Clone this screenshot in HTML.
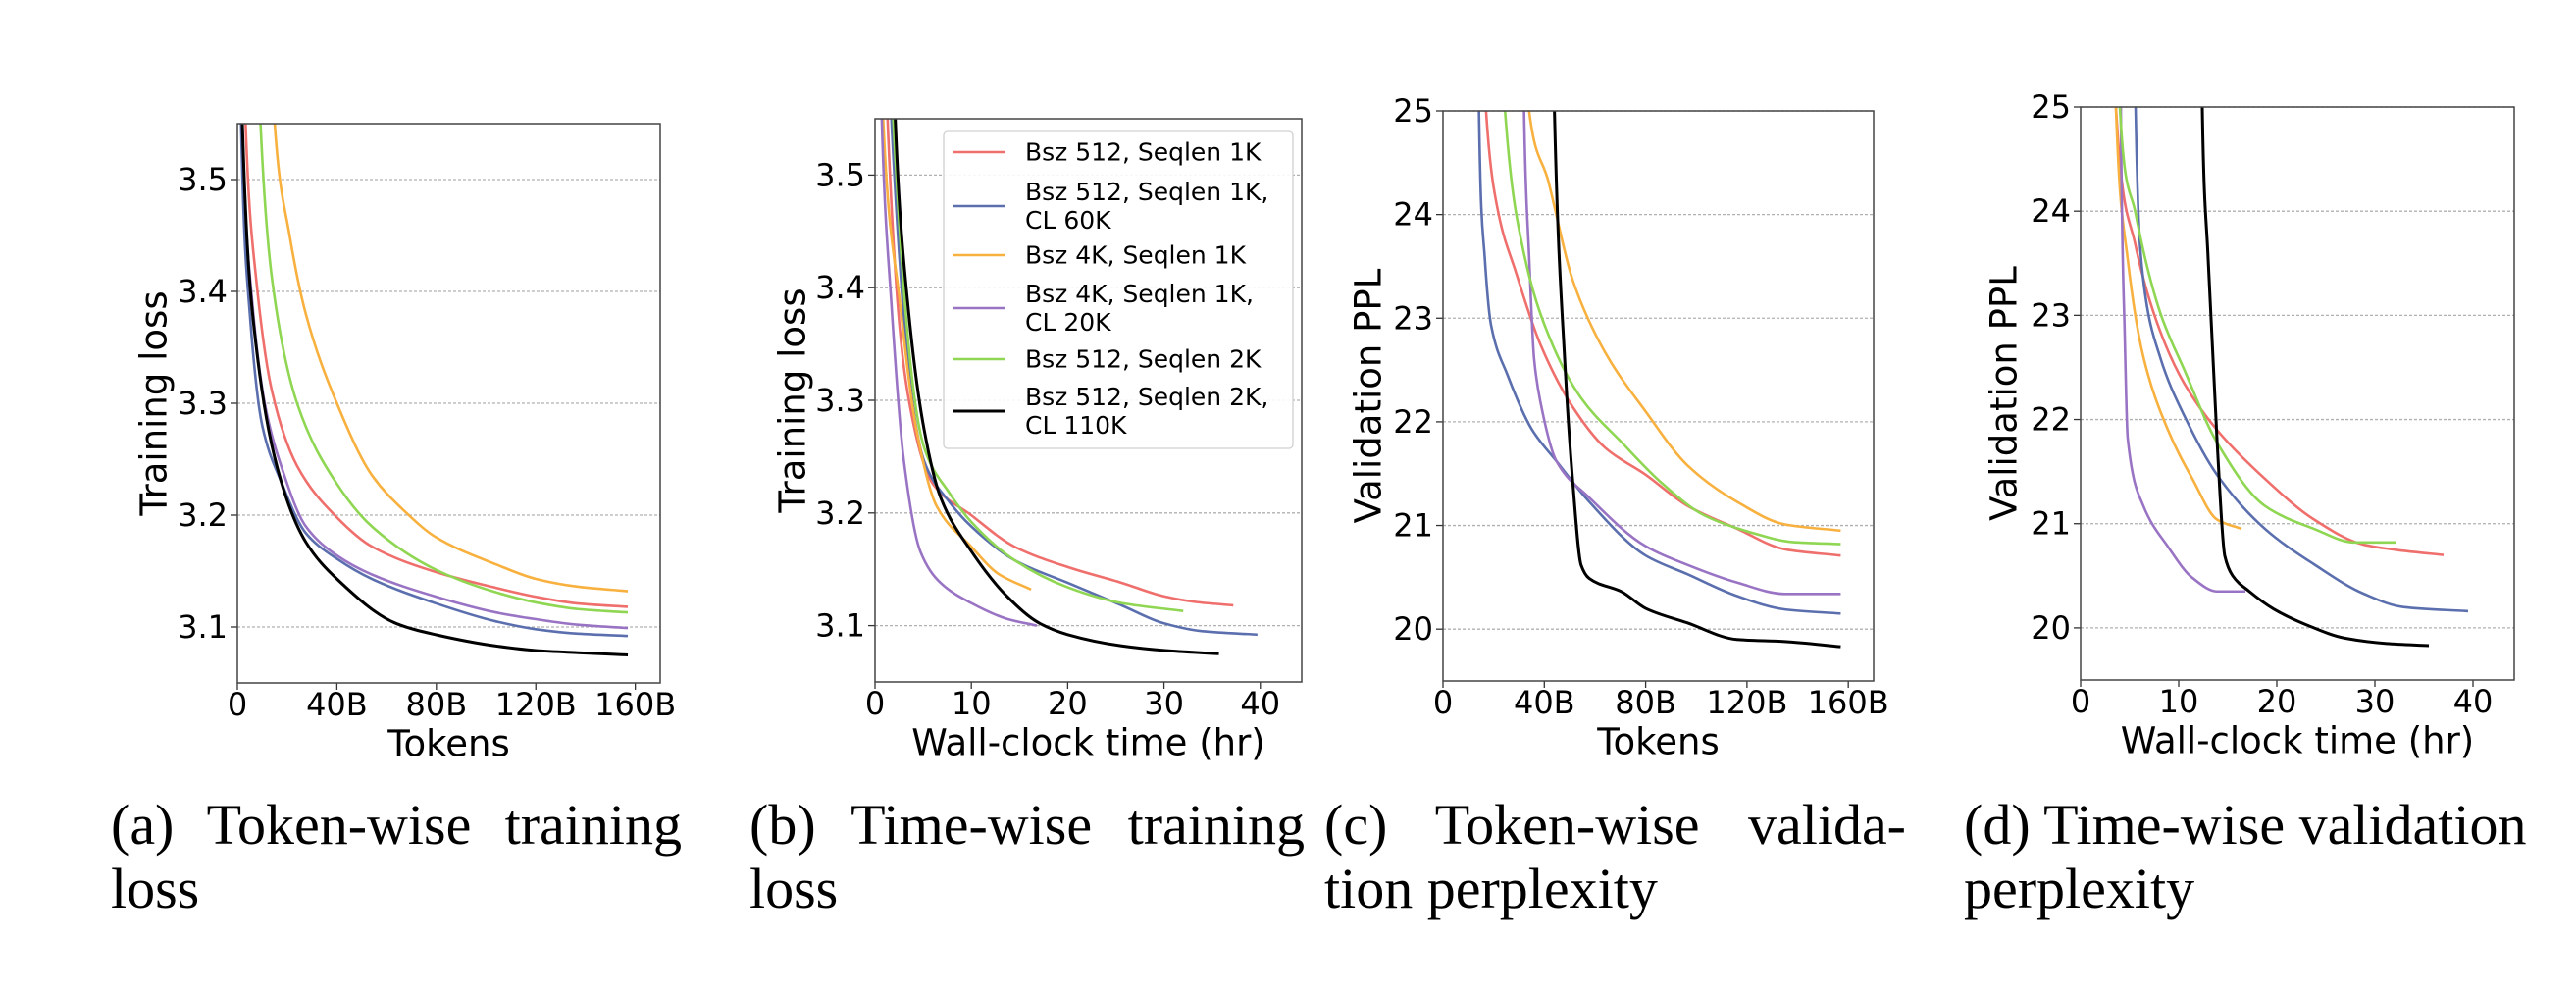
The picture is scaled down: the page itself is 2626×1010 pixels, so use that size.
<!DOCTYPE html>
<html><head><meta charset="utf-8">
<style>
html,body{margin:0;padding:0;background:#fff;}
#wrap{position:relative;width:2626px;height:1010px;overflow:hidden;}
svg{position:absolute;left:0;top:0;}
.cap{position:absolute;font-family:"Liberation Serif",serif;font-size:58px;line-height:65px;color:#000;}
.cap .l1{text-align:justify;text-align-last:justify;white-space:nowrap;}
.cap .l2{text-align:left;}
</style></head>
<body>
<div id="wrap">
<svg id="fig" width="2626" height="1010" xmlns="http://www.w3.org/2000/svg"></svg>
<div class="cap" style="left:113px;top:808px;width:582px;"><div class="l1">(a) Token-wise training</div><div class="l2">loss</div></div>
<div class="cap" style="left:764px;top:808px;width:566px;"><div class="l1">(b) Time-wise training</div><div class="l2">loss</div></div>
<div class="cap" style="left:1350px;top:808px;width:593px;"><div class="l1">(c) Token-wise valida-</div><div class="l2">tion perplexity</div></div>
<div class="cap" style="left:2002px;top:808px;width:570px;"><div class="l1">(d) Time-wise validation</div><div class="l2">perplexity</div></div>
</div>
<script>
const seriesNames = ["Bsz 512, Seqlen 1K","Bsz 512, Seqlen 1K, CL 60K","Bsz 4K, Seqlen 1K","Bsz 4K, Seqlen 1K, CL 20K","Bsz 512, Seqlen 2K","Bsz 512, Seqlen 2K, CL 110K"];
const lossTicks = [3.1,3.2,3.3,3.4,3.5];
const pplTicks = [20,21,22,23,24,25];
const tokenTicks = [0,40,80,120,160];
const tokenTickLabels = ["0","40B","80B","120B","160B"];
const hourTicks = [0,10,20,30,40];
const hourTickLabels = ["0","10","20","30","40"];

// Panel a: tokens (B) vs training loss
const aRedX=[1.5,3.3,7.6,14,24,40,54,80,104,120,137,157];
const aRedY=[3.9,3.55,3.41,3.31,3.244,3.198,3.172,3.149,3.135,3.127,3.121,3.118];
const aBlueX=[0.6,1.5,5,10,17.6,27.5,40,54,80,104,120,137,157];
const aBlueY=[3.9,3.55,3.38,3.28,3.23,3.184,3.161,3.143,3.121,3.105,3.098,3.094,3.092];
const aOrangeX=[12,15,21,27.5,40,54,67,80,104,120,137,157];
const aOrangeY=[3.9,3.55,3.45,3.38,3.30,3.236,3.204,3.18,3.156,3.143,3.136,3.132];
const aPurpleX=[0.8,2,6,11,17.6,27.5,40,54,80,104,120,137,157];
const aPurpleY=[3.9,3.55,3.39,3.30,3.244,3.19,3.164,3.147,3.127,3.113,3.107,3.102,3.099];
const aGreenX=[6,9.3,14,24,40,54,80,104,120,137,157];
const aGreenY=[3.9,3.55,3.41,3.30,3.228,3.19,3.151,3.131,3.122,3.116,3.113];
const aBlackX=[0.5,2,7.6,17.6,27.5,40,64,80,104,120,137,157];
const aBlackY=[3.9,3.55,3.35,3.23,3.176,3.143,3.103,3.093,3.083,3.079,3.077,3.075];

// Panel b: hours vs training loss
const bRedX=[0.6,1.3,3.4,6,10,14.5,20,25.6,30,33.3,37.2];
const bRedY=[3.9,3.55,3.306,3.226,3.198,3.17,3.152,3.138,3.126,3.121,3.118];
const bBlueX=[0.9,1.7,5.1,7.7,10,14.5,20,25.6,30,34,39.7];
const bBlueY=[3.9,3.55,3.246,3.21,3.188,3.158,3.138,3.118,3.102,3.095,3.092];
const bOrangeX=[0.3,0.85,2.6,4.3,6.4,10,12.8,16.2];
const bOrangeY=[3.9,3.55,3.386,3.274,3.206,3.17,3.146,3.132];
const bPurpleX=[0.2,0.7,1.7,3,4.7,6.8,10,13.7,16.8];
const bPurpleY=[3.9,3.55,3.386,3.246,3.166,3.138,3.12,3.106,3.10];
const bGreenX=[1,1.9,5.1,7.7,10,14.5,20,25.6,32];
const bGreenY=[3.9,3.55,3.258,3.218,3.192,3.158,3.134,3.12,3.113];
const bBlackX=[1.4,2.1,3.4,5.1,6.8,10,13.7,17.1,20,25.6,30,35.7];
const bBlackY=[3.9,3.55,3.386,3.274,3.214,3.166,3.126,3.102,3.092,3.082,3.078,3.075];

// Panel c: tokens (B) vs validation PPL
const cRedX=[15,17,22,28.7,38.4,51.3,64,80,96.5,116,135,157];
const cRedY=[27,25,24.0,23.45,22.75,22.14,21.75,21.49,21.19,20.97,20.77,20.71];
const cBlueX=[14,14.2,16.5,19,25.5,35,44.8,57.7,80,96.5,116,135,157];
const cBlueY=[27,25,23.58,22.93,22.45,21.93,21.62,21.23,20.71,20.53,20.32,20.19,20.15];
const cOrangeX=[32,34,41.6,51.3,64,80,96.5,116,135,157];
const cOrangeY=[27,25,24.32,23.36,22.67,22.1,21.58,21.23,21.01,20.95];
const cPurpleX=[31.5,32,34,36,38.4,44.8,57.7,80,96.5,116,135,157];
const cPurpleY=[27,25,23.6,22.6,22.2,21.62,21.27,20.8,20.62,20.45,20.34,20.34];
const cGreenX=[22,24.5,32,41.6,54.5,70.6,86.8,103,122,138,157];
const cGreenY=[27,25,23.62,22.84,22.23,21.8,21.4,21.1,20.93,20.84,20.82];
const cBlackX=[43,44,48,51.3,54.5,57.7,70.6,80,96.5,116,135,157];
const cBlackY=[27,25,22.62,21.4,20.62,20.49,20.36,20.2,20.06,19.9,19.88,19.83];

// Panel d: hours vs validation PPL
const dRedX=[3.4,3.6,5.6,8.1,10.6,13.9,18.8,23.8,28.8,32.9,37];
const dRedY=[27,25,23.67,22.85,22.34,21.9,21.43,21.04,20.8,20.74,20.7];
const dBlueX=[5.5,5.6,6.4,8.1,10.6,13.9,18.8,23.8,28.8,32.9,39.5];
const dBlueY=[27,25,23.33,22.6,22.03,21.47,20.95,20.61,20.33,20.2,20.16];
const dOrangeX=[3.4,3.6,4.8,6.4,8.9,11.4,13.9,16.4];
const dOrangeY=[27,25,23.54,22.6,21.9,21.43,21.04,20.95];
const dPurpleX=[4.05,4.1,4.5,4.8,6.4,8.9,11.4,13.9,16.8];
const dPurpleY=[27,25,22.8,21.82,21.17,20.78,20.48,20.35,20.35];
const dGreenX=[3.9,4,5.6,8.1,10.6,13.9,18.8,23.8,27.9,32.1];
const dGreenY=[27,25,23.98,23.03,22.47,21.78,21.17,20.95,20.82,20.82];
const dBlackX=[12.3,12.4,13,13.9,14.7,15.5,17.2,19.7,23,27,31.2,35.5];
const dBlackY=[27,25,23.54,21.81,20.69,20.5,20.35,20.18,20.03,19.9,19.85,19.83];

const colors=["#ef6f6c","#5b6fae","#f8b13f","#9a74c4","#8fd652","#000000"];
const keys=["red","blue","orange","purple","green","black"];

const NS="http://www.w3.org/2000/svg";
const svg=document.getElementById("fig");
function mk(tag,attrs,parent){const e=document.createElementNS(NS,tag);for(const k in attrs)e.setAttribute(k,attrs[k]);(parent||svg).appendChild(e);return e;}

function monotonePath(px,py){
  const n=px.length; if(n<2) return "";
  const dx=[],m=[],t=new Array(n);
  for(let i=0;i<n-1;i++){dx[i]=px[i+1]-px[i];m[i]=(py[i+1]-py[i])/dx[i];}
  t[0]=m[0];t[n-1]=m[n-2];
  for(let i=1;i<n-1;i++){ if(m[i-1]*m[i]<=0) t[i]=0; else { const w1=2*dx[i]+dx[i-1],w2=dx[i]+2*dx[i-1]; t[i]=(w1+w2)/(w1/m[i-1]+w2/m[i]); } }
  let d="M"+px[0].toFixed(2)+","+py[0].toFixed(2);
  for(let i=0;i<n-1;i++){const h=dx[i]/3;
    d+=" C"+(px[i]+h).toFixed(2)+","+(py[i]+t[i]*h).toFixed(2)+" "+(px[i+1]-h).toFixed(2)+","+(py[i+1]-t[i+1]*h).toFixed(2)+" "+px[i+1].toFixed(2)+","+py[i+1].toFixed(2);}
  return d;
}

const panels=[
 {id:"a",x0:242,x1:673,y0:126,y1:696,xd:[0,170],yd:[3.05,3.55],xt:tokenTicks,xl:tokenTickLabels,yt:lossTicks,yfmt:v=>v.toFixed(1),xlabel:"Tokens",ylabel:"Training loss",ylx:157,
  data:[[aRedX,aRedY],[aBlueX,aBlueY],[aOrangeX,aOrangeY],[aPurpleX,aPurpleY],[aGreenX,aGreenY],[aBlackX,aBlackY]]},
 {id:"b",x0:892,x1:1327,y0:121,y1:695,xd:[0,44.3],yd:[3.05,3.55],xt:hourTicks,xl:hourTickLabels,yt:lossTicks,yfmt:v=>v.toFixed(1),xlabel:"Wall-clock time (hr)",ylabel:"Training loss",ylx:808,
  data:[[bRedX,bRedY],[bBlueX,bBlueY],[bOrangeX,bOrangeY],[bPurpleX,bPurpleY],[bGreenX,bGreenY],[bBlackX,bBlackY]]},
 {id:"c",x0:1471,x1:1910,y0:113,y1:694,xd:[0,170],yd:[19.5,25],xt:tokenTicks,xl:tokenTickLabels,yt:pplTicks,yfmt:v=>String(v),xlabel:"Tokens",ylabel:"Validation PPL",ylx:1395,
  data:[[cRedX,cRedY],[cBlueX,cBlueY],[cOrangeX,cOrangeY],[cPurpleX,cPurpleY],[cGreenX,cGreenY],[cBlackX,cBlackY]]},
 {id:"d",x0:2121,x1:2563,y0:109,y1:693,xd:[0,44.2],yd:[19.5,25],xt:hourTicks,xl:hourTickLabels,yt:pplTicks,yfmt:v=>String(v),xlabel:"Wall-clock time (hr)",ylabel:"Validation PPL",ylx:2043,
  data:[[dRedX,dRedY],[dBlueX,dBlueY],[dOrangeX,dOrangeY],[dPurpleX,dPurpleY],[dGreenX,dGreenY],[dBlackX,dBlackY]]}
];

const FONT='"DejaVu Sans","Liberation Sans",sans-serif';
panels.forEach(p=>{
  const sx=v=>p.x0+(v-p.xd[0])/(p.xd[1]-p.xd[0])*(p.x1-p.x0);
  const sy=v=>p.y1-(v-p.yd[0])/(p.yd[1]-p.yd[0])*(p.y1-p.y0);
  const g=mk("g",{});
  
  
  const cp=mk("clipPath",{id:"clip"+p.id},g);
  mk("rect",{x:p.x0,y:p.y0,width:p.x1-p.x0,height:p.y1-p.y0},cp);
  p.yt.forEach(v=>{
    const y=sy(v);
    const gl=mk("line",{x1:p.x0,x2:p.x1,y1:y,y2:y,stroke:"#b0b0b0","stroke-width":1.3,"stroke-dasharray":"3,2"},g);
    
    
    mk("line",{x1:p.x0-7,x2:p.x0,y1:y,y2:y,stroke:"#333","stroke-width":1.3},g);
    const t=mk("text",{x:p.x0-10,y:y,"text-anchor":"end","dominant-baseline":"central","font-family":FONT,"font-size":32,fill:"#000"},g);
    t.textContent=p.yfmt(v);
    
    
  });
  p.xt.forEach((v,i)=>{
    const x=sx(v);
    mk("line",{x1:x,x2:x,y1:p.y1,y2:p.y1+7,stroke:"#333","stroke-width":1.3},g);
    const t=mk("text",{x:x,y:p.y1+22,"text-anchor":"middle","dominant-baseline":"central","font-family":FONT,"font-size":32,fill:"#000"},g);
    t.textContent=p.xl[i];
    
    
  });
  const sg=mk("g",{"clip-path":"url(#clip"+p.id+")"},g);
  p.data.forEach((s,i)=>{
    const px=s[0].map(sx),py=s[1].map(sy);
    const path=mk("path",{d:monotonePath(px,py),fill:"none",stroke:colors[i],"stroke-width":i===5?3:2.6,"stroke-linejoin":"round"},sg);
    
    
  });
  const fr=mk("rect",{x:p.x0,y:p.y0,width:p.x1-p.x0,height:p.y1-p.y0,fill:"none",stroke:"#444","stroke-width":1.5},g);
  
  
  const xl=mk("text",{x:(p.x0+p.x1)/2,y:p.y1+62,"text-anchor":"middle","dominant-baseline":"central","font-family":FONT,"font-size":37,fill:"#000"},g);
  xl.textContent=p.xlabel;
  
  
  const ym=(p.y0+p.y1)/2;
  const yl=mk("text",{x:p.ylx,y:ym,"text-anchor":"middle","dominant-baseline":"central","font-family":FONT,"font-size":37,fill:"#000",transform:"rotate(-90 "+p.ylx+" "+ym+")"},g);
  yl.textContent=p.ylabel;
  
  
});

const lg=mk("g",{});


mk("rect",{x:962,y:134,width:356,height:323,rx:4,fill:"#fff","fill-opacity":0.9,stroke:"#d0d0d0","stroke-width":1.3},lg);
const legendRows=[[155,["Bsz 512, Seqlen 1K"]],[210,["Bsz 512, Seqlen 1K,","CL 60K"]],[260,["Bsz 4K, Seqlen 1K"]],[314,["Bsz 4K, Seqlen 1K,","CL 20K"]],[366,["Bsz 512, Seqlen 2K"]],[419,["Bsz 512, Seqlen 2K,","CL 110K"]]];
legendRows.forEach((r,i)=>{
  const eg=mk("g",{},lg);
  
  
  mk("line",{x1:972,x2:1025,y1:r[0],y2:r[0],stroke:colors[i],"stroke-width":i===5?3:2.6},eg);
  const lines=r[1];
  lines.forEach((s,j)=>{
    const y=r[0]+(j-(lines.length-1)/2)*29;
    const t=mk("text",{x:1045,y:y,"dominant-baseline":"central","font-family":FONT,"font-size":25,fill:"#000"},eg);
    t.textContent=s;
  });
});
</script>
</body></html>
